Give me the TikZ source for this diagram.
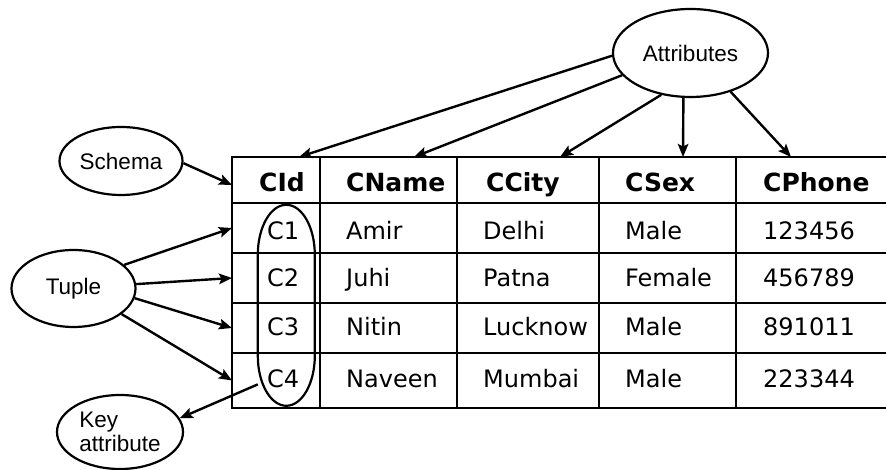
\documentclass[tikz,border=0pt]{standalone}
\usepackage{fontspec}
\setmainfont{DejaVu Sans}
\newfontfamily\labelfont{Liberation Sans}
\usetikzlibrary{arrows.meta,shapes.geometric}

\tikzset{
    bubble/.style={draw, ellipse, line width=2.2pt, inner sep=0pt,
        font=\labelfont\fontsize{22.5}{24}\selectfont},
    cell/.style={anchor=base west, inner sep=0pt, font=\fontsize{24}{26}\selectfont},
    headcell/.style={cell, font=\fontsize{25}{27}\selectfont\bfseries},
    grid line/.style={line width=2.8pt, line cap=rect},
    link/.style={-{Stealth[length=13pt,width=10.5pt,inset=2.5pt]}, line width=2.4pt},
}

\begin{document}
\begin{tikzpicture}[x=1pt, y=1pt]
    \useasboundingbox (0,0) rectangle (886,470);

    % Table grid (runs off the right edge)
    \foreach \y in {313,267,217,167,117,62}
        \draw[grid line] (232,\y) -- (890,\y);
    \foreach \x in {232,320,457,599,736}
        \draw[grid line] (\x,313) -- (\x,62);

    % Header
    \foreach \name/\x/\txt in {hId/259/CId, hName/346/CName, hCity/486/CCity,
                               hSex/625/CSex, hPhone/763/CPhone}
        \node[headcell] (\name) at (\x,278) {\txt};

    % Rows
    \foreach \i/\y/\c/\id/\nm/\city/\sex/\ph in {
            1/230/242/C1/Amir/Delhi/Male/123456,
            2/183/192/C2/Juhi/Patna/Female/456789,
            3/134/142/C3/Nitin/Lucknow/Male/891011,
            4/82/89.5/C4/Naveen/Mumbai/Male/223344} {
        \coordinate (row\i) at (232,\c);
        \node[cell] (id\i) at (267,\y) {\id};
        \node[cell] (nm\i) at (346,\y) {\nm};
        \node[cell] (city\i) at (483,\y) {\city};
        \node[cell] (sex\i) at (625,\y) {\sex};
        \node[cell] (ph\i) at (763,\y) {\ph};
    }

    % Key column oval
    \node[minimum width=57pt, minimum height=201pt, inner sep=0pt] (keycol) at (286.5,164.5) {};
    \draw[line width=2.2pt] (keycol.north west) ++(0,-50)
        arc[start angle=180, end angle=0, x radius=28.5, y radius=50] -- ++(0,-101)
        arc[start angle=0, end angle=-180, x radius=28.5, y radius=50] -- cycle;

    % Labels
    \node[bubble, minimum width=123pt, minimum height=68pt] (schema) at (121,309) {Schema};
    \node[bubble, minimum width=124pt, minimum height=77pt] (tuple) at (73.5,181.5) {Tuple};
    \node[bubble, minimum width=126pt, minimum height=74pt, align=left] (keyattr) at (120,38) {Key\\attribute};
    \node[bubble, minimum width=155pt, minimum height=88pt] (attr) at (690.5,417) {Attributes};

    % Arrow targets on the header
    \coordinate (a1) at (299,313);
    \coordinate (a2) at (414,313);
    \coordinate (a3) at (560,313);
    \coordinate (a4) at (683,313);
    \coordinate (a5) at (791,313);
    \coordinate (s1) at (232,285);

    % Arrows
    \draw[link] (schema.-2) -- (s1);
    \draw[link] (tuple.25) -- (row1);
    \draw[link] (tuple.4) -- (row2);
    \draw[link] (tuple.-9) -- (row3);
    \draw[link] (tuple.-28) -- (row4);
    \draw[link] (keycol.250) -- (keyattr.13);
    \draw[link] (attr.182) -- (a1);
    \draw[link] (attr.198) -- (a2);
    \draw[link] (attr.235) -- (a3);
    \draw[link] (attr.261) -- (a4);
    \draw[link] (attr.316) -- (a5);
\end{tikzpicture}
\end{document}
